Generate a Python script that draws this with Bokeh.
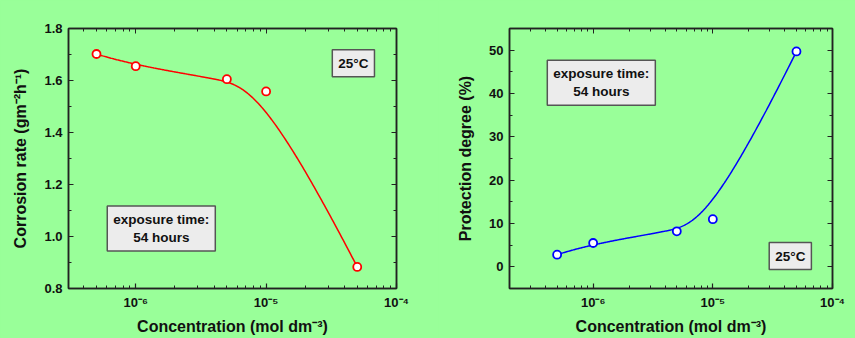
import numpy as np
from bokeh.plotting import figure
from bokeh.layouts import row
from bokeh.models import Label, FixedTicker, LogAxis, LinearAxis, Range1d, NumeralTickFormatter
from bokeh.embed import file_html
from bokeh.resources import INLINE

# ---- data ----
conc = [5e-7, 1e-6, 5e-6, 1e-5, 5e-5]               # mol dm^-3
corrosion_rate = [1.702, 1.655, 1.605, 1.558, 0.883]  # g m^-2 h^-1
protection = [2.8, 5.5, 8.2, 11.0, 49.7]             # %

x_major = [1e-6, 1e-5, 1e-4]
x_major_labels = ["10⁻⁶", "10⁻⁵", "10⁻⁴"]
left_y_ticks = [0.8, 1.0, 1.2, 1.4, 1.6, 1.8]
right_y_ticks = [0, 10, 20, 30, 40, 50]

BG = "#99ff99"
FONT = "Liberation Sans"
INK = "#111111"
FRAME = "#222222"


def bspline(xs, ys, n=300, k=3):
    """Clamped B-spline using the data points as control points (log-x space)."""
    cx = np.log10(np.asarray(xs, float))
    cy = np.asarray(ys, float)
    m = len(cx)
    n_int = m - k - 1
    knots = np.concatenate([np.zeros(k + 1),
                            np.arange(1, n_int + 1) / (n_int + 1),
                            np.ones(k + 1)])
    t = np.linspace(0, 1, n)
    t[-1] = 1 - 1e-12

    def basis(i, kk, tt):
        if kk == 0:
            return np.where((knots[i] <= tt) & (tt < knots[i + 1]), 1.0, 0.0)
        out = np.zeros_like(tt)
        d1 = knots[i + kk] - knots[i]
        d2 = knots[i + kk + 1] - knots[i + 1]
        if d1 > 0:
            out += (tt - knots[i]) / d1 * basis(i, kk - 1, tt)
        if d2 > 0:
            out += (knots[i + kk + 1] - tt) / d2 * basis(i + 1, kk - 1, tt)
        return out

    B = np.array([basis(i, k, t) for i in range(m)])
    lx = B.T @ cx
    ly = B.T @ cy
    return 10 ** lx, ly


def style(p, y_ticks, y_minor, y_label, y_fmt, y_title_standoff):
    p.background_fill_color = BG
    p.border_fill_color = BG
    p.outline_line_color = FRAME
    p.outline_line_width = 1.5
    p.xgrid.visible = False
    p.ygrid.visible = False

    xa = p.xaxis[0]
    xa.ticker = FixedTicker(ticks=x_major,
                            minor_ticks=[m * d for d in [1e-7, 1e-6, 1e-5] for m in range(2, 10)])
    xa.major_label_overrides = {v: s for v, s in zip(x_major, x_major_labels)}
    xa.axis_label = "Concentration (mol dm⁻³)"

    ya = p.yaxis[0]
    ya.ticker = FixedTicker(ticks=y_ticks, minor_ticks=y_minor)
    ya.formatter = NumeralTickFormatter(format=y_fmt)
    ya.axis_label = y_label

    for ax in (xa, ya):
        ax.axis_line_color = FRAME
        ax.axis_line_width = 1.5
        ax.major_tick_line_color = FRAME
        ax.minor_tick_line_color = FRAME
        ax.major_tick_line_width = 1.2
        ax.minor_tick_line_width = 1.0
        ax.major_tick_in = 5
        ax.major_tick_out = 0
        ax.minor_tick_in = 3
        ax.minor_tick_out = 0
        ax.major_label_text_font = FONT
        ax.major_label_text_font_style = "bold"
        ax.major_label_text_font_size = "13px"
        ax.major_label_text_color = INK
        ax.axis_label_text_font = FONT
        ax.axis_label_text_font_style = "bold"
        ax.axis_label_text_font_size = "16px"
        ax.axis_label_text_color = INK
    xa.major_label_standoff = 6
    xa.axis_label_standoff = 5
    ya.major_label_standoff = 6
    ya.axis_label_standoff = y_title_standoff

    # mirrored tick marks on top and right (no labels)
    top = LogAxis(ticker=FixedTicker(ticks=x_major, minor_ticks=xa.ticker.minor_ticks))
    right = LinearAxis(ticker=FixedTicker(ticks=y_ticks, minor_ticks=y_minor))
    for ax in (top, right):
        ax.major_label_text_font_size = "2px"
        ax.major_label_text_alpha = 0
        ax.major_label_standoff = 0
        ax.axis_line_color = FRAME
        ax.axis_line_width = 1.5
        ax.major_tick_line_color = FRAME
        ax.minor_tick_line_color = FRAME
        ax.major_tick_in = 5
        ax.major_tick_out = 0
        ax.minor_tick_in = 3
        ax.minor_tick_out = 0
    p.add_layout(top, "above")
    p.add_layout(right, "right")


def box(p, x, y, text):
    p.add_layout(Label(x=x, y=y, text=text,
                       text_align="center", text_baseline="middle",
                       text_font=FONT, text_font_style="bold",
                       text_font_size="13.5px", text_color=INK,
                       background_fill_color="#ececec",
                       border_line_color="#555555", border_line_width=1.5,
                       padding=6))


H = 338

# ---- left: corrosion rate ----
p1 = figure(width=438, height=H, x_axis_type="log",
            x_range=Range1d(3.05e-7, 1e-4), y_range=Range1d(0.8, 1.8),
            output_backend="svg", toolbar_location=None,
            min_border_left=68, min_border_right=42,
            min_border_top=26, min_border_bottom=50)
style(p1, left_y_ticks, [0.9, 1.1, 1.3, 1.5, 1.7], "Corrosion rate (gm⁻²h⁻¹)", "0.0", 12)
cx1, cy1 = bspline(conc, corrosion_rate)
p1.line(cx1, cy1, line_color="#ff0000", line_width=1.5)
p1.scatter(conc, corrosion_rate, marker="circle", size=8,
           fill_color="white", line_color="#ff0000", line_width=1.8)
box(p1, 4.67e-5, 1.666, "25°C")
box(p1, 1.57e-6, 1.031, "exposure time:\n54 hours")

# ---- right: protection degree ----
p2 = figure(width=417, height=H, x_axis_type="log",
            x_range=Range1d(2e-7, 1e-4), y_range=Range1d(-5, 55),
            output_backend="svg", toolbar_location=None,
            min_border_left=71, min_border_right=23,
            min_border_top=28, min_border_bottom=50)
style(p2, right_y_ticks, [5, 15, 25, 35, 45], "Protection degree (%)", "0", 12)
cx2, cy2 = bspline(conc, protection)
p2.line(cx2, cy2, line_color="#0000ff", line_width=1.5)
p2.scatter(conc, protection, marker="circle", size=8,
           fill_color="white", line_color="#0000ff", line_width=1.8)
box(p2, 1.17e-6, 42.5, "exposure time:\n54 hours")
box(p2, 4.44e-5, 2.5, "25°C")

layout = row(p1, p2)
layout.styles = {"background-color": BG}
open("out.html", "w").write(file_html(layout, INLINE))
